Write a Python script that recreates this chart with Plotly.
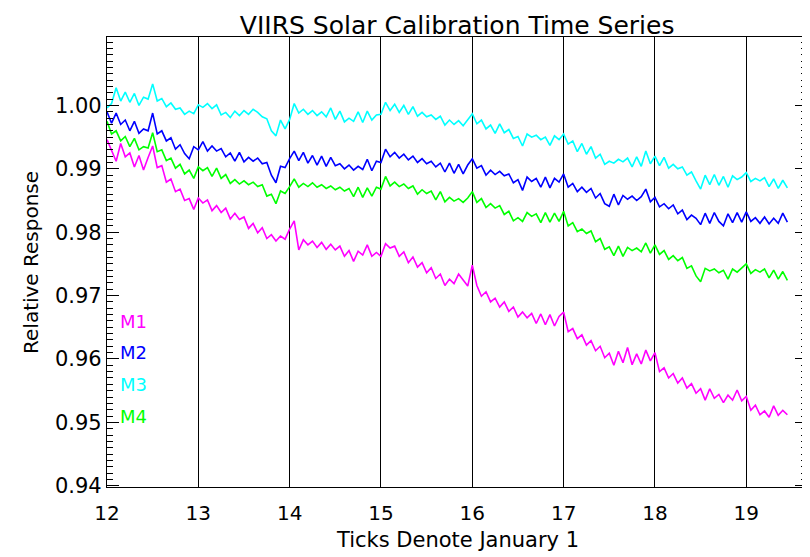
import plotly.graph_objects as go

# time grid (years since 2000, Jan 1 ticks), 0.05-year sampling
t_start, t_step, n_pts = 12.0, 0.05, 150
t = [round(t_start + i * t_step, 2) for i in range(n_pts)]

m1 = [0.9946, 0.9928, 0.9912, 0.9940, 0.9919, 0.9925, 0.9903, 0.9921, 0.9898, 0.9918,
      0.9936, 0.9902, 0.9905, 0.9879, 0.9884, 0.9864, 0.9868, 0.9850, 0.9853, 0.9836,
      0.9854, 0.9846, 0.9851, 0.9834, 0.9842, 0.9831, 0.9838, 0.9821, 0.9830, 0.9820,
      0.9824, 0.9806, 0.9814, 0.9799, 0.9807, 0.9790, 0.9796, 0.9786, 0.9794, 0.9789,
      0.9805, 0.9818, 0.9772, 0.9788, 0.9780, 0.9786, 0.9776, 0.9784, 0.9773, 0.9781,
      0.9772, 0.9778, 0.9762, 0.9771, 0.9754, 0.9770, 0.9764, 0.9780, 0.9762, 0.9768,
      0.9762, 0.9782, 0.9775, 0.9778, 0.9762, 0.9769, 0.9752, 0.9761, 0.9745, 0.9752,
      0.9736, 0.9744, 0.9727, 0.9734, 0.9716, 0.9726, 0.9719, 0.9734, 0.9724, 0.9715,
      0.9748, 0.9716, 0.9699, 0.9706, 0.9690, 0.9696, 0.9682, 0.9690, 0.9675, 0.9682,
      0.9666, 0.9674, 0.9665, 0.9672, 0.9656, 0.9671, 0.9654, 0.9670, 0.9652, 0.9667,
      0.9674, 0.9643, 0.9648, 0.9632, 0.9638, 0.9622, 0.9629, 0.9613, 0.9620, 0.9602,
      0.9609, 0.9590, 0.9612, 0.9594, 0.9618, 0.9591, 0.9608, 0.9592, 0.9614, 0.9597,
      0.9610, 0.9580, 0.9586, 0.9570, 0.9577, 0.9562, 0.9570, 0.9554, 0.9561, 0.9546,
      0.9553, 0.9535, 0.9553, 0.9538, 0.9544, 0.9531, 0.9543, 0.9535, 0.9551, 0.9534,
      0.9541, 0.9519, 0.9527, 0.9512, 0.9518, 0.9508, 0.9526, 0.9511, 0.9519, 0.9512]

m2 = [0.9990, 0.9972, 0.9988, 0.9970, 0.9977, 0.9960, 0.9975, 0.9956, 0.9963, 0.9960,
      0.9988, 0.9955, 0.9960, 0.9944, 0.9949, 0.9931, 0.9938, 0.9924, 0.9916, 0.9935,
      0.9930, 0.9943, 0.9928, 0.9936, 0.9928, 0.9932, 0.9919, 0.9925, 0.9912, 0.9926,
      0.9911, 0.9918, 0.9912, 0.9917, 0.9908, 0.9910, 0.9890, 0.9878, 0.9904, 0.9902,
      0.9916, 0.9928, 0.9913, 0.9926, 0.9909, 0.9921, 0.9906, 0.9920, 0.9904, 0.9918,
      0.9905, 0.9908, 0.9900, 0.9906, 0.9898, 0.9904, 0.9899, 0.9915, 0.9897, 0.9912,
      0.9910, 0.9931, 0.9919, 0.9926, 0.9917, 0.9923, 0.9914, 0.9920, 0.9910, 0.9916,
      0.9908, 0.9912, 0.9903, 0.9909, 0.9895, 0.9909, 0.9893, 0.9907, 0.9892, 0.9906,
      0.9916, 0.9901, 0.9905, 0.9890, 0.9898, 0.9891, 0.9896, 0.9889, 0.9892, 0.9878,
      0.9883, 0.9866, 0.9887, 0.9880, 0.9885, 0.9871, 0.9887, 0.9870, 0.9885, 0.9879,
      0.9892, 0.9871, 0.9877, 0.9864, 0.9871, 0.9863, 0.9869, 0.9854, 0.9861, 0.9845,
      0.9841, 0.9860, 0.9843, 0.9858, 0.9852, 0.9857, 0.9850, 0.9856, 0.9868, 0.9848,
      0.9855, 0.9840, 0.9845, 0.9837, 0.9843, 0.9829, 0.9835, 0.9820, 0.9827, 0.9822,
      0.9812, 0.9830, 0.9814, 0.9831, 0.9817, 0.9810, 0.9829, 0.9815, 0.9831, 0.9816,
      0.9832, 0.9817, 0.9823, 0.9814, 0.9824, 0.9813, 0.9822, 0.9814, 0.9830, 0.9816]

m3 = [0.9996, 1.0003, 1.0028, 1.0007, 1.0021, 1.0005, 1.0019, 1.0000, 1.0013, 1.0010,
      1.0034, 1.0007, 1.0011, 0.9998, 1.0004, 0.9994, 0.9996, 0.9986, 0.9991, 0.9987,
      1.0001, 0.9997, 1.0003, 0.9995, 1.0001, 0.9985, 0.9989, 0.9981, 0.9991, 0.9984,
      0.9992, 0.9986, 0.9994, 0.9989, 0.9982, 0.9979, 0.9960, 0.9952, 0.9977, 0.9963,
      0.9978, 1.0003, 0.9988, 0.9994, 0.9986, 0.9992, 0.9984, 0.9990, 0.9982, 0.9996,
      0.9978, 0.9991, 0.9974, 0.9980, 0.9975, 0.9990, 0.9973, 0.9991, 0.9977, 0.9985,
      0.9986, 1.0005, 0.9992, 1.0002, 0.9989, 1.0000, 0.9986, 0.9998, 0.9983, 0.9989,
      0.9982, 0.9985, 0.9978, 0.9983, 0.9969, 0.9977, 0.9970, 0.9976, 0.9968, 0.9977,
      0.9987, 0.9971, 0.9977, 0.9963, 0.9969, 0.9956, 0.9971, 0.9957, 0.9962, 0.9948,
      0.9951, 0.9936, 0.9955, 0.9950, 0.9953, 0.9946, 0.9950, 0.9937, 0.9952, 0.9946,
      0.9955, 0.9939, 0.9944, 0.9927, 0.9940, 0.9923, 0.9935, 0.9917, 0.9923, 0.9907,
      0.9912, 0.9909, 0.9915, 0.9911, 0.9917, 0.9903, 0.9919, 0.9904, 0.9928, 0.9908,
      0.9920, 0.9905, 0.9918, 0.9901, 0.9907, 0.9900, 0.9903, 0.9890, 0.9895, 0.9881,
      0.9868, 0.9890, 0.9875, 0.9891, 0.9874, 0.9888, 0.9871, 0.9889, 0.9883, 0.9887,
      0.9894, 0.9880, 0.9885, 0.9881, 0.9886, 0.9872, 0.9884, 0.9869, 0.9882, 0.9870]

m4 = [0.9975, 0.9955, 0.9960, 0.9944, 0.9951, 0.9935, 0.9948, 0.9930, 0.9935, 0.9933,
      0.9957, 0.9927, 0.9930, 0.9913, 0.9917, 0.9901, 0.9907, 0.9892, 0.9898, 0.9885,
      0.9903, 0.9897, 0.9902, 0.9888, 0.9901, 0.9885, 0.9891, 0.9877, 0.9883, 0.9876,
      0.9881, 0.9875, 0.9879, 0.9872, 0.9875, 0.9857, 0.9860, 0.9845, 0.9865, 0.9861,
      0.9872, 0.9884, 0.9871, 0.9877, 0.9872, 0.9878, 0.9871, 0.9875, 0.9869, 0.9873,
      0.9867, 0.9871, 0.9865, 0.9869, 0.9856, 0.9871, 0.9855, 0.9870, 0.9857, 0.9871,
      0.9868, 0.9888, 0.9873, 0.9879, 0.9872, 0.9876, 0.9869, 0.9873, 0.9860, 0.9867,
      0.9861, 0.9865, 0.9851, 0.9864, 0.9848, 0.9855, 0.9849, 0.9853, 0.9847, 0.9854,
      0.9864, 0.9847, 0.9853, 0.9839, 0.9845, 0.9838, 0.9842, 0.9828, 0.9833, 0.9818,
      0.9823, 0.9817, 0.9831, 0.9825, 0.9829, 0.9815, 0.9831, 0.9816, 0.9830, 0.9817,
      0.9833, 0.9810, 0.9815, 0.9801, 0.9805, 0.9798, 0.9802, 0.9785, 0.9790, 0.9773,
      0.9777, 0.9763, 0.9778, 0.9762, 0.9776, 0.9771, 0.9775, 0.9769, 0.9783, 0.9767,
      0.9780, 0.9765, 0.9771, 0.9757, 0.9763, 0.9755, 0.9760, 0.9743, 0.9747, 0.9731,
      0.9722, 0.9743, 0.9739, 0.9742, 0.9736, 0.9740, 0.9726, 0.9742, 0.9737, 0.9743,
      0.9750, 0.9735, 0.9741, 0.9737, 0.9742, 0.9728, 0.9740, 0.9726, 0.9738, 0.9724]

band_names = ["M1", "M2", "M3", "M4"]
band_colors = ["#FF00FF", "#0000FF", "#00FFFF", "#00FF00"]
series = [m1, m2, m3, m4]

y_labels = [0.94, 0.95, 0.96, 0.97, 0.98, 0.99, 1.00]
x_labels = [12, 13, 14, 15, 16, 17, 18, 19]

FONT = "DejaVu Sans"

fig = go.Figure()
for name, col, vals in zip(band_names, band_colors, series):
    fig.add_trace(go.Scatter(x=t, y=vals, mode="lines", name=name,
                             line=dict(color=col, width=1.6), showlegend=False))

label_y = [0.368, 0.298, 0.227, 0.156]
for name, col, yy in zip(band_names, band_colors, label_y):
    fig.add_annotation(text=name, x=0.016, y=yy, xref="paper", yref="paper",
                       xanchor="left", yanchor="middle", showarrow=False,
                       font=dict(family=FONT, size=18, color=col))

# axis titles
fig.add_annotation(text="Ticks Denote January 1", x=0.5, y=-0.117, xref="paper", yref="paper",
                   xanchor="center", yanchor="middle", showarrow=False,
                   font=dict(family=FONT, size=21, color="black"))
fig.add_annotation(text="Relative Response", x=-0.1086, y=0.5, xref="paper", yref="paper",
                   xanchor="center", yanchor="middle", showarrow=False, textangle=-90,
                   font=dict(family=FONT, size=20, color="black"))

# page body has an 8px margin, so the figure is sized/offset to compensate
fig.update_layout(
    width=802, height=549,
    margin=dict(l=99, r=3, t=29, b=70, autoexpand=False),
    paper_bgcolor="white", plot_bgcolor="white",
    font=dict(family=FONT, size=20, color="black"),
    title=dict(text="VIIRS Solar Calibration Time Series", x=0.56, xanchor="center",
               xref="container", yref="container",
               y=0.984, yanchor="top", pad=dict(t=0, b=0),
               font=dict(family=FONT, size=25, color="black")),
)
fig.update_xaxes(
    range=[12, 19.665], tickmode="array", tickvals=x_labels,
    showgrid=True, gridcolor="black", gridwidth=1.3,
    showline=True, linecolor="black", linewidth=1.3, mirror=True,
    ticks="", zeroline=False, automargin=False, ticklabelstandoff=8,
    tickfont=dict(size=20),
)
fig.update_yaxes(
    range=[0.9398, 1.0108], tickmode="array", tickvals=y_labels, tickformat=".2f",
    showgrid=False, zeroline=False, automargin=False,
    showline=True, linecolor="black", linewidth=1.3, mirror="ticks",
    ticks="inside", ticklen=12, tickwidth=1.3, tickcolor="black",
    minor=dict(tickmode="linear", tick0=0.94, dtick=0.001, ticks="inside", ticklen=6,
               tickwidth=1.3, tickcolor="black", showgrid=False),
    tickfont=dict(size=21),
)

fig.write_html("out.html")
